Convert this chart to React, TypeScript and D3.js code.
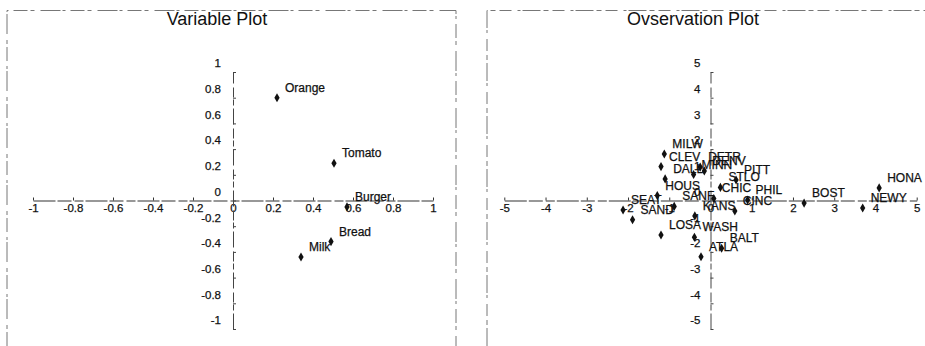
import React, { useEffect, useRef } from 'react';
import * as d3 from 'd3';

// variable loadings
const varNames = ['Orange', 'Tomato', 'Burger', 'Bread', 'Milk'];
const varX = [0.22, 0.505, 0.57, 0.49, 0.34];
const varY = [0.8, 0.29, -0.05, -0.32, -0.44];

// observation scores
const obsNames = [
  'MILW', 'CLEV', 'DALL', 'HOUS', 'SEAT', 'SAND', 'LOSA', 'SANF', 'WASH', 'ATLA',
  'BALT', 'KANS', 'CINC', 'CHIC', 'PHIL', 'STLO', 'PITT', 'DETR', 'MINN', 'DENV',
  'BOST', 'NEWY', 'HONA',
];
const obsX = [
  -1.12, -1.2, -1.1, -1.29, -2.12, -1.89, -1.2, -0.88, -0.39, -0.23,
  0.27, -0.38, 0.59, 0.08, 0.9, 0.24, 0.62, -0.25, -0.41, -0.15,
  2.27, 3.69, 4.09,
];
const obsY = [
  1.81, 1.32, 0.84, 0.19, -0.37, -0.75, -1.34, -0.23, -1.43, -2.19,
  -1.86, -0.6, -0.41, 0.08, 0.02, 0.51, 0.8, 1.3, 1.01, 1.15,
  -0.1, -0.29, 0.49,
];

const titles = ['Variable Plot', 'Ovservation Plot'];

const FONT = "Arial, 'Liberation Sans', sans-serif";

function drawPanel(svg, opts) {
  const { x0, x1, top, bottom, lim, names, xs, ys, title, titleX, pad } = opts;
  const x = d3.scaleLinear().domain([-lim, lim]).range([x0, x1]);
  const y = d3.scaleLinear().domain([-lim, lim]).range([bottom, top]);
  const fmt = (d) => String(+(+d).toFixed(1));

  svg.append('text')
    .attr('x', titleX)
    .attr('y', 25)
    .attr('text-anchor', 'middle')
    .style('font-family', FONT)
    .style('font-size', '18px')
    .style('fill', '#111')
    .text(title);

  const xAxis = d3.axisBottom(x)
    .ticks(10)
    .tickSizeInner(-3)
    .tickSizeOuter(0)
    .tickPadding(3.5)
    .tickFormat(fmt);
  const gx = svg.append('g')
    .attr('transform', `translate(0,${y(0)})`)
    .call(xAxis);
  gx.select('.domain')
    .attr('stroke', '#333')
    .attr('stroke-width', 1.2)
    .attr('stroke-dasharray', '22 2 14 3 9 2');
  gx.selectAll('.tick line').attr('stroke', '#333');
  gx.selectAll('.tick text')
    .style('font-family', FONT)
    .style('font-size', '11.5px')
    .style('fill', '#111')
    .style('stroke', '#111')
    .style('stroke-width', 0.25);

  const yAxis = d3.axisLeft(y)
    .ticks(10)
    .tickSizeInner(-3)
    .tickSizeOuter(0)
    .tickPadding(pad)
    .tickFormat(fmt);
  const gy = svg.append('g')
    .attr('transform', `translate(${x(0)},0)`)
    .call(yAxis);
  gy.select('.domain')
    .attr('stroke', '#444')
    .attr('stroke-width', 1)
    .attr('stroke-dasharray', '16 3 6 2 10 4');
  gy.selectAll('.tick line').attr('stroke', '#444');
  gy.selectAll('.tick text')
    .attr('dy', '-0.45em')
    .style('font-family', FONT)
    .style('font-size', '11.5px')
    .style('fill', '#111')
    .style('stroke', '#111')
    .style('stroke-width', 0.25);

  const idx = d3.range(names.length);
  const diamond = d3.symbol().type(d3.symbolDiamond).size(24);
  svg.append('g')
    .selectAll('path')
    .data(idx)
    .join('path')
    .attr('d', diamond)
    .attr('transform', (i) => `translate(${x(xs[i])},${y(ys[i])})`)
    .attr('fill', '#111');
  svg.append('g')
    .selectAll('text')
    .data(idx)
    .join('text')
    .attr('x', (i) => x(xs[i]) + 8)
    .attr('y', (i) => y(ys[i]) - 6)
    .style('font-family', FONT)
    .style('font-size', '12px')
    .style('fill', '#111')
    .style('stroke', '#111')
    .style('stroke-width', 0.25)
    .text((i) => names[i]);
}

export default function App() {
  const ref = useRef(null);

  useEffect(() => {
    const svg = d3.select(ref.current);
    svg.selectAll('*').remove();

    // scanned-looking frames
    const frame = svg.append('g')
      .attr('fill', 'none')
      .attr('stroke', '#777')
      .attr('stroke-width', 1);
    frame.append('path')
      .attr('d', 'M7,346 L7,10.5 L456,10.5 L456,346')
      .attr('stroke-dasharray', '14 3 4 6 20 2 3 5');
    frame.append('path')
      .attr('d', 'M487,346 L487,10.5 L925,10.5')
      .attr('stroke-dasharray', '18 3 5 4 12 6 3 2');

    drawPanel(svg, {
      x0: 33, x1: 433, top: 72, bottom: 329, lim: 1,
      names: varNames, xs: varX, ys: varY,
      title: titles[0], titleX: 217, pad: 12,
    });
    drawPanel(svg, {
      x0: 504.3, x1: 916.7, top: 72, bottom: 329, lim: 5,
      names: obsNames, xs: obsX, ys: obsY,
      title: titles[1], titleX: 693, pad: 10,
    });
  }, []);

  return (
    <svg
      ref={ref}
      width={925}
      height={346}
      style={{ position: 'absolute', left: 0, top: 0, background: '#fff' }}
    />
  );
}
